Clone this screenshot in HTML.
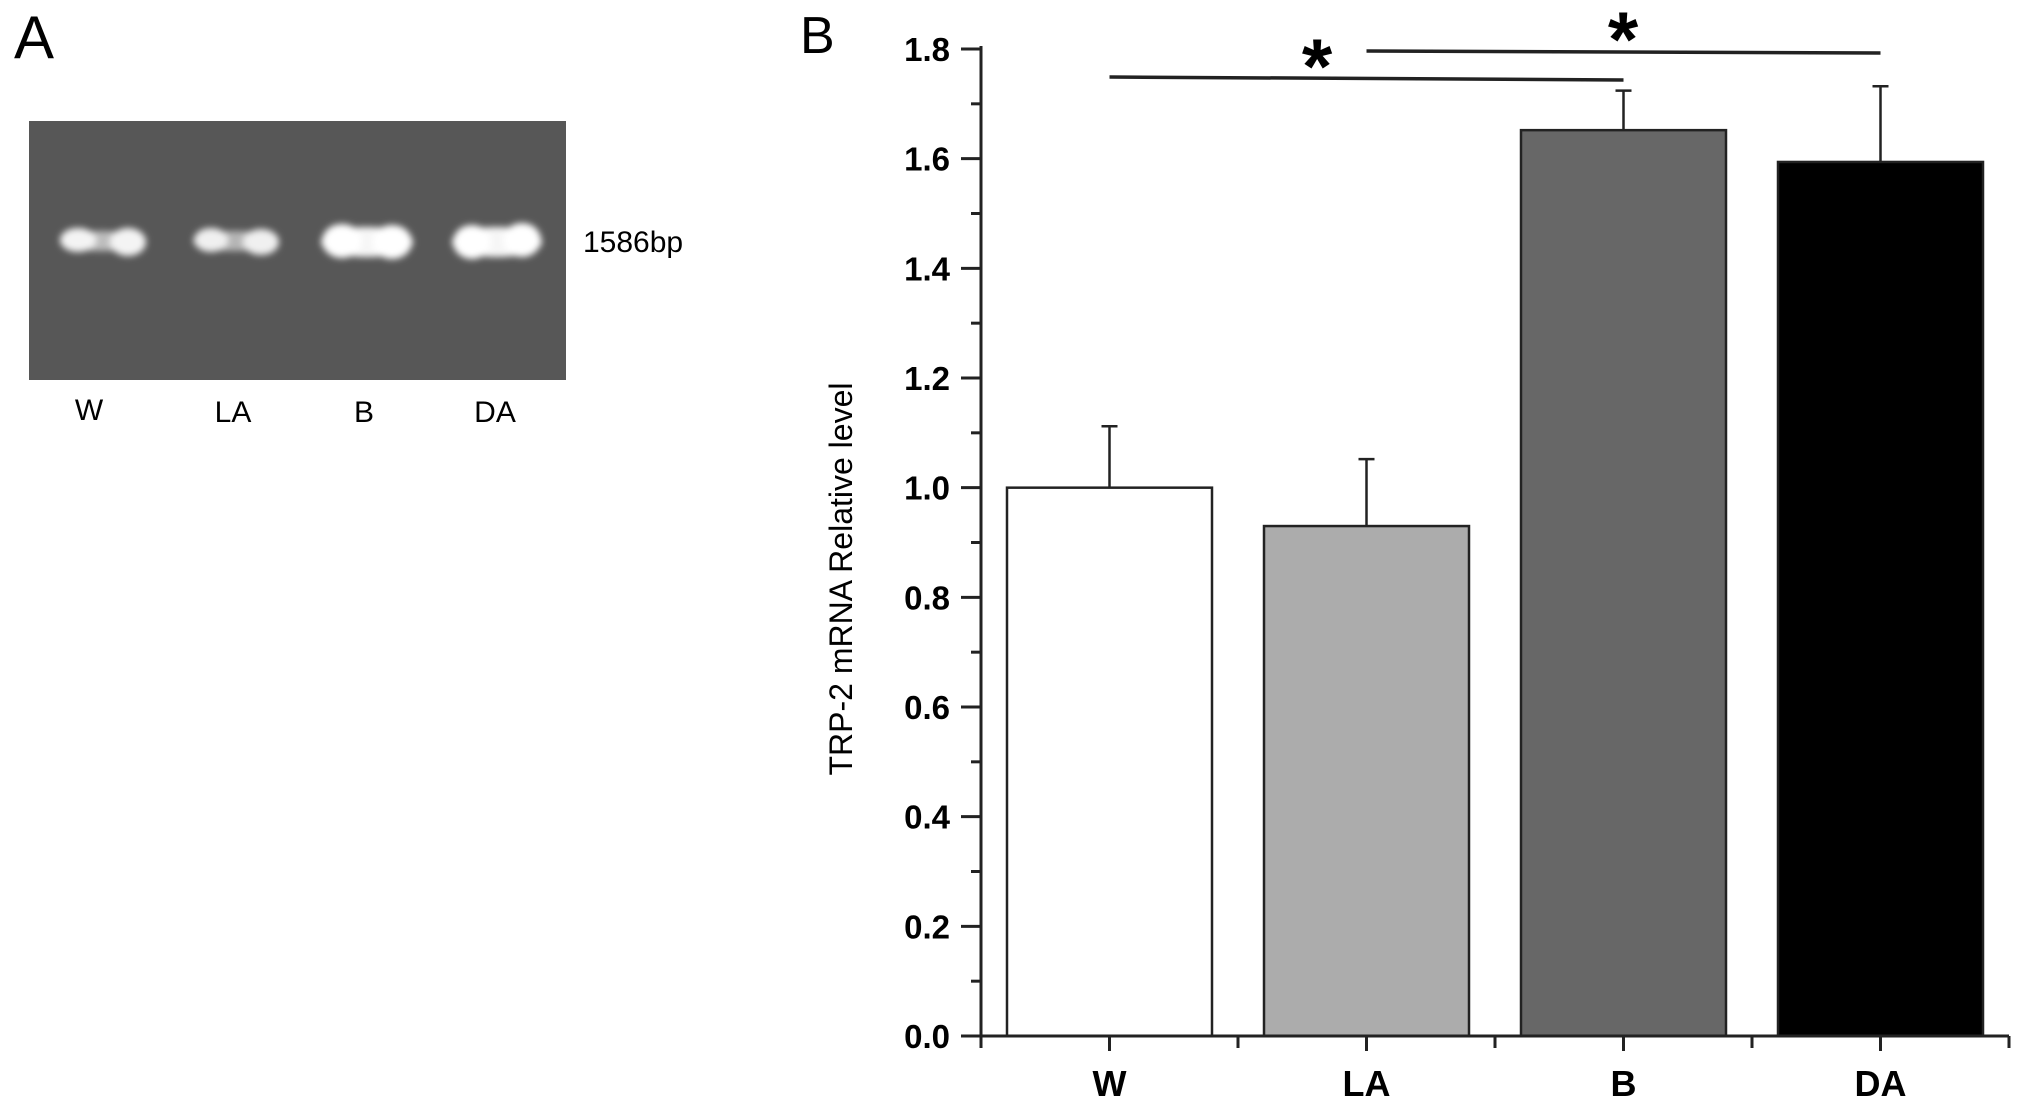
<!DOCTYPE html>
<html><head><meta charset="utf-8"><style>
html,body{margin:0;padding:0;background:#fff;width:2031px;height:1105px;overflow:hidden}
svg{display:block}
text{font-family:"Liberation Sans",sans-serif}
</style></head><body>
<svg id="fig" width="2031" height="1105" viewBox="0 0 2031 1105">
<defs>
<filter id="blur" x="-30%" y="-80%" width="160%" height="260%"><feGaussianBlur stdDeviation="3.5"/></filter>
</defs>
<g>
<text x="14" y="58" font-size="60">A</text>
<rect x="29" y="121" width="537" height="259" fill="#575757"/>
<g filter="url(#blur)">
<g>
<ellipse cx="102" cy="241" rx="42" ry="10" fill="#bdbdbd"/>
<ellipse cx="78" cy="240" rx="18" ry="12" fill="#f4f4f4"/><ellipse cx="128" cy="242" rx="18" ry="14" fill="#f4f4f4"/></g>
<g>
<ellipse cx="235" cy="241" rx="42" ry="10" fill="#b5b5b5"/>
<ellipse cx="211" cy="240" rx="17" ry="12" fill="#f0f0f0"/><ellipse cx="261" cy="242" rx="18" ry="13" fill="#f0f0f0"/></g>
<g>
<ellipse cx="367" cy="242" rx="46" ry="15" fill="#f6f6f6"/>
<ellipse cx="342" cy="241" rx="20" ry="17" fill="#ffffff"/><ellipse cx="392" cy="242" rx="20" ry="17" fill="#ffffff"/></g>
<g>
<ellipse cx="497" cy="242" rx="45" ry="15" fill="#f6f6f6"/>
<ellipse cx="472" cy="242" rx="19" ry="17" fill="#ffffff"/><ellipse cx="522" cy="240" rx="19" ry="17" fill="#ffffff"/></g>
</g>
<text x="583" y="252" font-size="30">1586bp</text>
<g font-size="30" text-anchor="middle">
<text x="89" y="420">W</text><text x="233" y="422">LA</text><text x="364" y="422">B</text><text x="495" y="422">DA</text>
</g>
</g>
<text x="800" y="53" font-size="52">B</text>
<g id="chart"></g>
</svg>
<script>
const categories=["W","LA","B","DA"];
const values=[1.0,0.93,1.652,1.594];
const errors=[0.112,0.122,0.072,0.138];
const fills=["#ffffff","#acacac","#676767","#000000"];
const yTicks=["0.0","0.2","0.4","0.6","0.8","1.0","1.2","1.4","1.6","1.8"];
const NS="http://www.w3.org/2000/svg";
const g=document.getElementById('chart');
const x0=981,x1=2009,yBase=1036,yTop=49,yMax=1.8;
const y=v=>yBase-(v/yMax)*(yBase-yTop);
const band=(x1-x0)/categories.length;
const xc=i=>x0+band*(i+0.5);
function el(t,a){const e=document.createElementNS(NS,t);for(const k in a)e.setAttribute(k,a[k]);g.appendChild(e);return e;}
categories.forEach((c,i)=>{
 const bw=205,v=values[i];
 const r=el('rect',{x:xc(i)-bw/2,y:y(v),width:bw,height:yBase-y(v),fill:fills[i],stroke:'#222','stroke-width':2.5});
 
 
 const e=el('path',{d:`M${xc(i)},${y(v)}V${y(v+errors[i])}M${xc(i)-8},${y(v+errors[i])}H${xc(i)+8}`,stroke:'#222','stroke-width':2.5,fill:'none'});
 
 
 const t=el('text',{x:xc(i),y:1096,'font-size':36,'font-weight':'bold','text-anchor':'middle'});
 t.textContent=c;
 
 
});
const ax=el('path',{d:`M${x0},${yTop-3}V${yBase}M961,${yBase}H${x1}`,stroke:'#222','stroke-width':3,fill:'none'});


yTicks.forEach((lab,i)=>{
 const v=parseFloat(lab),yy=y(v);
 const tk=el('line',{x1:961,x2:x0,y1:yy,y2:yy,stroke:'#222','stroke-width':3});
 
 
 if(i<yTicks.length-1){const m=el('line',{x1:971,x2:x0,y1:y(v+0.1),y2:y(v+0.1),stroke:'#222','stroke-width':3});
 
 }
 const t=el('text',{x:950,y:yy+12,'font-size':33,'font-weight':'bold','text-anchor':'end'});
 t.textContent=lab;
 
 
});
for(let i=0;i<=categories.length;i++){
 const xx=x0+band*i;
 const m=el('line',{x1:xx,x2:xx,y1:yBase,y2:yBase+12,stroke:'#222','stroke-width':3});
 
 
 if(i<categories.length){const t=el('line',{x1:xc(i),x2:xc(i),y1:yBase,y2:yBase+15,stroke:'#222','stroke-width':3});
 
 }
}
const yt=el('text',{x:0,y:0,'font-size':32,'text-anchor':'middle',transform:'translate(852,579) rotate(-90)'});
yt.textContent='TRP-2 mRNA Relative level';


const s1=el('path',{d:`M${xc(0)},77L${xc(2)},80`,stroke:'#222','stroke-width':3.5,fill:'none'});


const s2=el('path',{d:`M${xc(1)},51L${xc(3)},53`,stroke:'#222','stroke-width':3.5,fill:'none'});


const a1=el('text',{x:1317,y:93,'font-size':78,'font-weight':'bold','text-anchor':'middle'});
a1.textContent='*';


const a2=el('text',{x:1623,y:66,'font-size':78,'font-weight':'bold','text-anchor':'middle'});
a2.textContent='*';


</script>
</body></html>
